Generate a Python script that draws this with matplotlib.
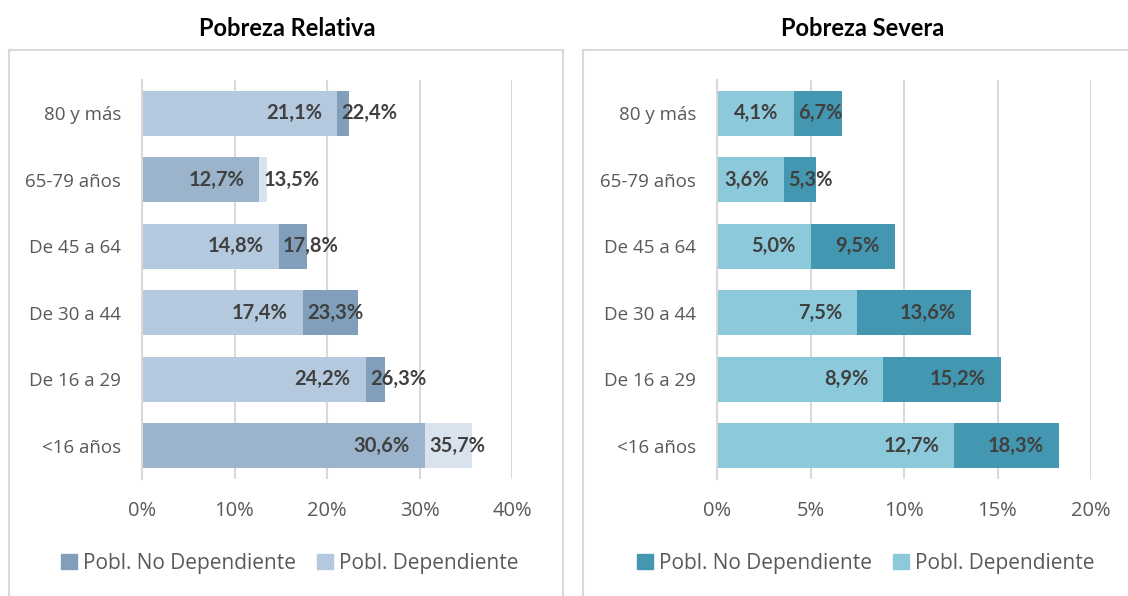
import matplotlib
matplotlib.use('Agg')
import matplotlib.pyplot as plt
from matplotlib.patches import Patch, Rectangle

# Data (top to bottom)
categorias = ['80 y más', '65-79 años', 'De 45 a 64', 'De 30 a 44', 'De 16 a 29', '<16 años']
relativa_dep = [21.1, 12.7, 14.8, 17.4, 24.2, 30.6]
relativa_total = [22.4, 13.5, 17.8, 23.3, 26.3, 35.7]
severa_dep = [4.1, 3.6, 5.0, 7.5, 8.9, 12.7]
severa_total = [6.7, 5.3, 9.5, 13.6, 15.2, 18.3]
ticks_relativa = [0, 10, 20, 30, 40]
ticks_severa = [0, 5, 10, 15, 20]

# Colours
rel_light, rel_dark = '#b4c9dd', '#819fba'
rel_mid, rel_pale = '#9bb4cb', '#d8e3ee'
rel_seg1 = [rel_light, rel_mid, rel_light, rel_light, rel_light, rel_mid]
rel_seg2 = [rel_dark, rel_pale, rel_dark, rel_dark, rel_dark, rel_pale]
sev_light, sev_dark = '#8ccadb', '#4397b0'

grid_col = '#d9d9d9'
txt_col = '#404040'
tick_col = '#595959'
LABEL_FONT = ['Lato', 'DejaVu Sans']
TICK_FONT = ['Open Sans', 'DejaVu Sans']

W, H = 1128, 596
fig = plt.figure(figsize=(W / 100, H / 100), dpi=100)

# panel boxes
for x0, x1 in [(9, 563), (583, 1140)]:
    fig.patches.append(Rectangle((x0 / W, -0.05), (x1 - x0) / W, 1.05 - 50 / H,
                                 transform=fig.transFigure, fill=False,
                                 edgecolor=grid_col, linewidth=1.5))


def panel(rect, first, total, c1, c2, ticks, title, title_x, leg_x):
    ax = fig.add_axes(rect)
    y = list(range(len(categorias)))
    second = [t - f for f, t in zip(first, total)]
    ax.barh(y, first, height=0.68, color=c1, linewidth=0)
    ax.barh(y, second, left=first, height=0.68, color=c2, linewidth=0)
    ax.set_ylim(len(categorias) - 0.5, -0.5)
    ax.set_xlim(ticks[0], ticks[-1])
    ax.set_xticks(ticks)
    ax.set_xticklabels([f'{t}%' for t in ticks])
    ax.set_yticks(y)
    ax.set_yticklabels(categorias)
    for s in ['top', 'right', 'bottom']:
        ax.spines[s].set_visible(False)
    ax.spines['left'].set_color(grid_col)
    ax.spines['left'].set_linewidth(1.5)
    ax.grid(True, axis='x', color=grid_col, linewidth=1.5)
    ax.set_axisbelow(True)
    ax.tick_params(length=0, colors=tick_col, labelsize=13.5)
    ax.tick_params(axis='x', pad=16, labelsize=14.5)
    ax.tick_params(axis='y', pad=15)
    for lab in ax.get_xticklabels() + ax.get_yticklabels():
        lab.set_family(TICK_FONT)

    kw = dict(textcoords='offset points', va='center', fontsize=14.5, fontweight='bold',
              color=txt_col, family=LABEL_FONT)
    seconds = []
    for i in y:
        ax.annotate(f'{first[i]:.1f}%'.replace('.', ','), (first[i], i), xytext=(-11, 0),
                    ha='right', **kw)
        seconds.append(ax.annotate(f'{total[i]:.1f}%'.replace('.', ','), (total[i], i),
                                   xytext=(-11, 0), ha='right', **kw))
    # move second labels that don't fit inside their segment
    fig.canvas.draw()
    r = fig.canvas.get_renderer()
    for i, t in enumerate(seconds):
        bb = t.get_window_extent(r)
        start_px = ax.transData.transform((first[i], i))[0]
        if bb.x0 < start_px + 4:
            t.xy = (first[i], i)
            t.set_position((3, 0))
            t.set_ha('left')

    fig.text(title_x / W, 1 - 28 / H, title, ha='center', va='center', fontsize=17,
             fontweight='bold', color='black', family=LABEL_FONT)
    handles = [Patch(color=c2[0] if isinstance(c2, list) else c2, label='Pobl. No Dependiente'),
               Patch(color=c1[0] if isinstance(c1, list) else c1, label='Pobl. Dependiente')]
    leg = fig.legend(handles=handles, loc='center', bbox_to_anchor=(leg_x / W, 1 - 563 / H),
                     ncol=2, frameon=False, handlelength=0.75, handleheight=0.75,
                     handletextpad=0.3, columnspacing=1.0,
                     prop={'family': TICK_FONT, 'size': 15})
    for t in leg.get_texts():
        t.set_color(tick_col)
    return ax


panel([142 / W, 1 - 479 / H, 370 / W, 399 / H], relativa_dep, relativa_total,
      rel_seg1, rel_seg2, ticks_relativa, 'Pobreza Relativa', 287, 290)
panel([717 / W, 1 - 479 / H, 374 / W, 399 / H], severa_dep, severa_total,
      sev_light, sev_dark, ticks_severa, 'Pobreza Severa', 863, 866)

fig.savefig('out.png', dpi=100)
